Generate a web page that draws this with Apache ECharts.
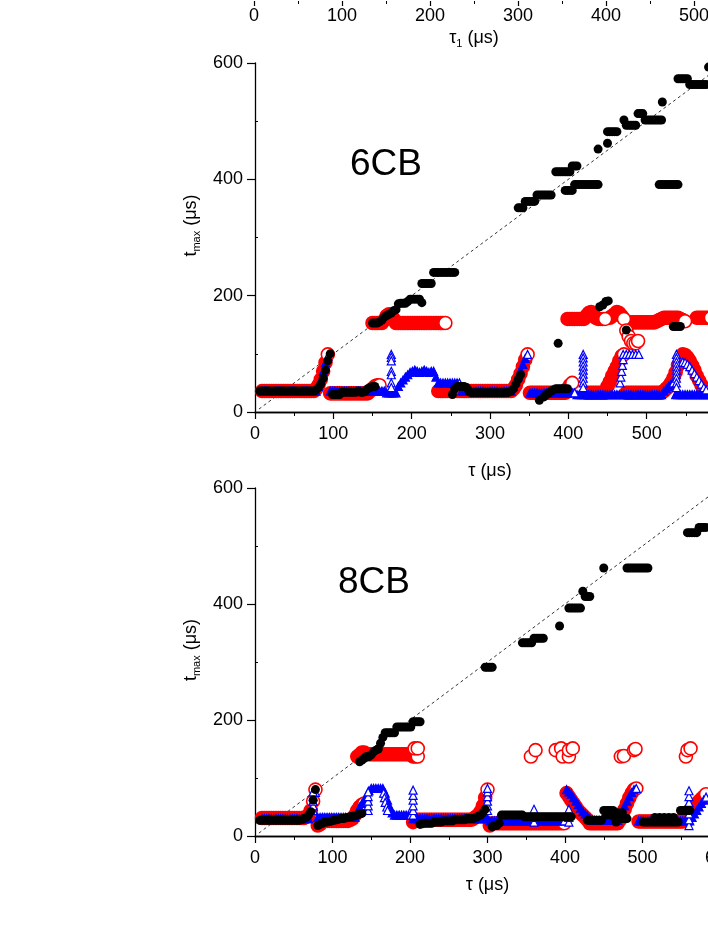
<!DOCTYPE html>
<html><head><meta charset="utf-8">
<script src="https://cdn.jsdelivr.net/npm/echarts@6/dist/echarts.min.js"></script>
<style>html,body{margin:0;padding:0;overflow:hidden;background:#fff}#c{width:760px;height:926px}</style>
</head><body><div id="c"></div>
<script>
const n = null;
const STEP = 3; // μs between consecutive readings inside a run
// tick / axis values
const X_TICKS_TOP = [0, 100, 200, 300, 400, 500];
const X_TICKS = [0, 100, 200, 300, 400, 500, 600];
const Y_TICKS = [0, 200, 400, 600];
const PANELS = ['6CB', '8CB'];
const DIAG = [[5, 5], [600, 600]];

// ---------------- 6CB ----------------
// runs: [first tau, [t_max readings every STEP us]]
const red6Runs = [
  [9, [36,36,36,36,36,36,36,36,36,36, 36,36,36,36,36,36,36,36,36,36, 36,36,36, 40,46,56,70,85,99,
       32,32,32,32,32,32,32,32,32,32, 32,32,32,32,32,32,32, 36,40,44,46,46]],
  [234, [36,36,36,36,36,36,36,36,36,36, 36,36,36,36,36,36,36,36,36,36, 36,36,36,36,36,36,36,36,36,36, 36,36,
         40,46,56,66,78,90,99, 33,33,33,33,33,33,33,33,33,33, 33,33,33,33,33,33, 40,46,50]],
  [423, [33,33,33,33,33,33,33,33,33, 44,52,62,70,78,88,96,99, 33,33,33,33,33,33,33,33,33,33, 33,33,33,33,33,33,
         36,40,44,50,58,68,80,92,99,98,94,88,80,72,62,54,46,40,36,35,35]],
  [150, [153,153,153,153,153,158,165,168,165,160,153, 153,153,153,153,153,153,153,153,153,153, 153,153,153,153,153,153,153,153,153,153, 153]],
  [399, [160,160,160,160,160,160,160,160, 165,170,172,168,162,160,160,160,160, n, 162,165,168,172,170,165,160]],
  [480, [154,154,154,154,154,154,154,154,154,154,154, 156,158,160,162,162,162,162,162,162,162, 160,158,156]],
  [564, [162,162,162,162,162,162,162]]
];
const red6Extra = [[474,140],[477,130],[480,122],[483,118],[486,118],[489,122]];

const blue6Runs = [
  [9, [36,36,36,36,36,36,36,36,36,36, 36,36,36,36,36,36,36,36,36,36, 36,36,36,36, 44,55,70,85,96,
       36,36,36,36,36,36,36,36,36,36, 36,36,36,36,36,36,36,36,36,36, 36,36,36,36, 33,33,33,33,33,
       44,50,55,60,64,68, 70,72,70,68,70,72,70,68,70,70, 60, 50,50,50,50,50,50,50,50,50,50]],
  [264, [36,36,36,36,36,36,36,36,36,36, 36,36,36,36,36,36,36,36,36,36, 36,36, 44,52,62,72,82,92,99,
         33,33,33,33,33,33,33,33,33,33, 33,33,33,33,33,33,33,33,33,33]],
  [411, [30,30,30,30,30,30,30,30,30,30, 30,30,30,30,30,30,30,30,30,30, 30,30,30,30,30,30,30,30,30,30, 30,30,30,30,30,30,30,
         36,40,44,48,50, 30,30,30,30,30,30,30,30,30,30, 30,30,30,30,30,30]]
];
const blue6Extra = [[174,99],[174,94],[174,88],[174,70],[174,64],[174,50],[174,42],
  [419,99],[419,93],[419,86],[419,79],[419,72],[419,65],[419,58],[419,50],[419,42],
  [466,50],[467,60],[468,70],[469,80],[470,90],[470,99],[474,99],[478,99],[482,99],[486,99],[490,99],
  [538,99],[538,93],[538,86],[538,79],[538,72],[538,65],[538,58],[538,50],[538,42],
  [546,86],[549,85],[552,82],[555,78],[558,72],[561,66],[564,60],[567,54],[570,48],[573,42],[576,38]];

const black6Runs = [
  [6, [36,36,36,36,36,36,36,36,36,36, 36,36,36,36,36,36,36,36,36,36, 36,36,36,36, 38,42,48,58,72,88,100,
       30,30,30,30, 34,34,34,34,34,34,34,36,34,34,36,40,42,44,44]],
  [252, [30,40,44,44,44,44,42, 36, 33,33,33,33,33,33,33,33,33,33, 33,33,33,33,33,33, 34,36,40,48,56,64]],
  [363, [20, n, 26,30,33,36,38,40,40,40,40,40,40]],
  [150, [153,153,153,155,158,163,166,168,170,174,176, 186,187,187,187,190,194,194,194,194,194,
         221,221,221,221,221, 240,240,240,240,240,240,240,240,240,240]],
  [336, [351,351,351, 362,362,362,362,362, 373,373,373,373,373,373,373, n, 413,413,413,413,413,413,413, 423,423,423]],
  [396, [381,381,381,381, 391,391,391,391,391,391,391,391,391,391,391]],
  [438, [452, n,n,n, 482,482,482,482,482, n,n, 502, 493,493,493,493,493, 513,513,513, 502,502,502,502,502,502,502,502]],
  [516, [391,391,391,391,391,391,391,391,391]],
  [540, [573,573,573,573,573, 563,563,563,563,563,563,563,563, 593]]
];
const black6Extra = [[450,462],[520,533],[213,188],[387,118],[440,181],[444,184],[448,190],[451,191],
  [474,141],[534,147],[537,147],[540,147],[543,147]];

// ---------------- 8CB ----------------
const red8Runs = [
  [9, [31,31,31,31,31,31,31,31,31,31, 31,31,31,31,31,31,31,31,31, 33,36,44,60,80, 18,20,
       26,26,26,26,26,26,26,26,26,26,26,26, 28,30,36,44,50,54,56]],
  [204, [24, 28,28,28,28,28,28,28,28,28,28, 28,28,28,28,28,28,28,28,28,28, 28,28,28,28,28, 30,33,36,42,52,66,80]],
  [303, [18, 22,22,22,22,22,22,22,22,22,22, 22,22,22,22,22,22,22,22,22,22, 22,22,22,22,22,22,22,22,22,22, 22,22,
         74,68,62,56,50,44,40,36,32,28, 22,22,22,22,22,22,22,22,22,22,22,22,22, 28,36,46,56,66,74,80,82]],
  [495, [25,25,25,25,25,25,25,25,25,25, 25,25,25,25,25,25,25,25,25,25, 36,40,44,48,52,56,60,64,68,72]],
  [132, [137,140,144,144, 141,141,141,141,141,141,141,141,141,141, 141,141,141,141,141,141,141,141,141,141, 137,137,137]]
];
const red8Extra = [[206,151],[210,151],[356,137],[362,148],[388,148],[395,151],[397,137],[405,137],[405,148],[410,151],
  [472,137],[476,138],[489,148],[491,150],[556,137],[558,148],[562,151]];

const blue8Runs = [
  [9, [30,30,30,30,30,30,30,30,30,30, 30,30,30,30,30,30,30,30,30,30, 30, 44,60,75,
       32,32,32,32,32,32,32,32,32,32, 32,32,32,32,32,32,32, 40,50,56,62,70,78, 82,82,82,82,82,82, 74,62,50,40,
       36,36,36,36,36,36,36,36]],
  [204, [30,30,30,30,30,30,30,30,30,30, 30,30,30,30,30,30,30,30,30,30, 30,30,30,30,30,30,30,30,30,30, 30,30,30,
         26,26,26,26,26,26,26,26,26,26, 26,26,26,26,26,26,26,26,26,26, 26,26,26,26,26,26,26,26,26,26, 26,26,26]],
  [402, [80,76,72,66,60,54,48,42,38,34,30, 27,27,27,27,27,27,27,27,27,27,27,27, 36,44,52,60,68,75,80,82,
         26,26,26,26,26,26,26,26,26,26, 26,26,26,26,26,26,26,26,26,26, 26,26,26, 32,38,44,50,56,62,67]]
];
const blue8Extra = [[75,44],[75,52],[75,60],[75,68],[75,76],[146,44],[146,52],[146,60],[146,68],[146,76],
  [166,74],[167,66],[168,58],[170,50],[171,44],[204,36],[204,44],[204,52],[204,62],[204,70],[204,79],
  [300,44],[300,52],[300,60],[300,68],[300,76],[300,82],[360,24],[360,32],[360,40],[360,46],
  [405,24],[405,32],[405,40],[405,46],[560,18],[560,28],[560,38],[560,48],[560,58],[560,68],[560,78]];

const black8Runs = [
  [6, [27,27,27,27,27,27,27,27,27,27, 27,27,27,27,27,27,27,27, 28,30,32,36,42,62,80,
       18,20,22,24,24,25,26,27,28,29, 30,30,31,32,33,34,35,36,38,39]],
  [213, [20,21,22,22,22,22,24,24,24,24, 26,26,26,26,26, 28,28,28,28,28, 30,30,30,30,32,34,36,40,46]],
  [306, [16,18,18,22, 36,36,36,36,36,36,36,36,36,36, 33,33,33,33,33,33,33,33,33,33, 33,33,33,33,33,33,33,33,33,33,33]],
  [429, [27,27,27,27,27,27,27, 44,44,44,44,44, 30,30,30,30,30,30]],
  [501, [24,24,24,24,24,24,24,24,24,24, 24,24,24,24,24,24, 44,44,44,44,44]],
  [135, [128,131,134,137,137,140,145,148,150,160,170,178,178,178,178,178, 188,188,188,188,188,188,188, 197,197,197,197]],
  [297, [291,291,291,291]],
  [345, [333,333,333,333,333, 341,341,341,341,341]],
  [393, [362, n,n,n, 393,393,393,393,393,393, 422, 413,413,413]],
  [450, [462]],
  [480, [462,462,462,462,462,462,462,462,462,462]],
  [558, [523,523,523,523,523, 532,532,532,532]]
];
const black8Extra = [[516,32],[522,32],[528,32],[534,32],[540,32],[453,36],[459,36],[468,40],[474,40],[466,24]];

// -------------- build --------------
// Densely overlapping open markers read as a solid band; only the last marker of a
// run (or one followed by a jump) keeps its visible white interior.
function expand(runs, extra) {
  const body = [], ends = [];
  runs.forEach(([t0, ys]) => ys.forEach((y, k) => {
    if (y == null) return;
    const nx = ys[k + 1];
    const pt = [t0 + STEP * k, y];
    if (nx == null || Math.abs(nx - y) >= 20) ends.push(pt); else body.push(pt);
  }));
  return {body, ends: ends.concat(extra), all: body.concat(ends, extra)};
}
const FONT = '"Liberation Sans", Arial, sans-serif';
const lab = {color: '#000', fontSize: 18, fontFamily: FONT};
const axLine = {lineStyle: {color: '#000', width: 1.3}};
const subRich = {s: {fontSize: 11, lineHeight: 9, verticalAlign: 'bottom', fontFamily: FONT, color: '#000'}};

const panelData = [
  {red: expand(red6Runs, red6Extra), blue: expand(blue6Runs, blue6Extra), black: expand(black6Runs, black6Extra)},
  {red: expand(red8Runs, red8Extra), blue: expand(blue8Runs, blue8Extra), black: expand(black8Runs, black8Extra)}
];

const grids = [
  {left: 254, top: 0, width: 440, height: 1},
  {left: 255, top: 63, width: 470, height: 349},
  {left: 255, top: 488, width: 465, height: 348}
];
const xNameGap = [26, 50, 40];
const xLabMargin = [6, 13, 13];

const xAxis = [{
  gridIndex: 0, type: 'value', min: X_TICKS_TOP[0], max: X_TICKS_TOP[X_TICKS_TOP.length - 1], interval: 100,
  axisLine: {show: false}, axisTick: {length: 5, lineStyle: {color: '#000', width: 1.2}},
  minorTick: {show: true, splitNumber: 2, length: 3, lineStyle: {color: '#000', width: 1}},
  axisLabel: Object.assign({margin: xLabMargin[0]}, lab), splitLine: {show: false},
  name: 'τ{s|1} (μs)', nameLocation: 'middle', nameGap: xNameGap[0],
  nameTextStyle: Object.assign({lineHeight: 22, rich: subRich}, lab)
}];
const yAxis = [{gridIndex: 0, type: 'value', min: 0, max: 600, show: false}];
[1, 2].forEach(g => {
  xAxis.push({
    gridIndex: g, type: 'value', min: X_TICKS[0], max: X_TICKS[X_TICKS.length - 1], interval: 100,
    axisLine: axLine, axisTick: {length: 7, lineStyle: {color: '#000', width: 1.2}},
    minorTick: {show: true, splitNumber: 2, length: 4, lineStyle: {color: '#000', width: 1}},
    axisLabel: Object.assign({margin: xLabMargin[g]}, lab), splitLine: {show: false},
    name: 'τ (μs)', nameLocation: 'middle', nameGap: xNameGap[g], nameTextStyle: lab
  });
  xAxis.push({
    gridIndex: g, type: 'value', position: 'top', min: 0, max: 600, interval: 50,
    axisLine: axLine, axisTick: {inside: true, length: 3, lineStyle: {color: '#000', width: 1}},
    axisLabel: {show: false}, splitLine: {show: false}
  });
  yAxis.push({
    gridIndex: g, type: 'value', min: Y_TICKS[0], max: Y_TICKS[Y_TICKS.length - 1], interval: 200,
    axisLine: axLine, axisTick: {length: 8, lineStyle: {color: '#000', width: 1.2}},
    axisLabel: Object.assign({margin: 12}, lab), splitLine: {show: false},
    name: 't{s|max} (μs)', nameLocation: 'middle', nameGap: 51, nameRotate: 90,
    nameTextStyle: Object.assign({lineHeight: 22, padding: [0, 0, 0, 24], rich: subRich}, lab)
  });
  yAxis.push({
    gridIndex: g, type: 'value', min: 0, max: 600, interval: 100, position: 'left',
    axisLine: {show: false}, axisLabel: {show: false}, splitLine: {show: false},
    axisTick: {inside: true, length: 3, customValues: [100, 300, 500], lineStyle: {color: '#000', width: 1}}
  });
});

const RED = '#ff0000', BLUE = '#0000ff';
const series = [];
panelData.forEach((d, p) => {
  const xi = 1 + 2 * p, yi = 1 + 2 * p;
  const base = {type: 'scatter', xAxisIndex: xi, yAxisIndex: yi, silent: true};
  series.push({type: 'line', xAxisIndex: xi, yAxisIndex: yi, data: DIAG, symbol: 'none', silent: true,
    lineStyle: {color: '#000', width: 0.8, type: [3, 3]}, z: 1});
  series.push(Object.assign({}, base, {data: d.red.body, symbol: 'circle', symbolSize: 13,
    itemStyle: {color: RED, borderColor: RED, borderWidth: 1.6, opacity: 1}, z: 2}));
  series.push(Object.assign({}, base, {data: d.red.ends, symbol: 'circle', symbolSize: 13,
    itemStyle: {color: '#fff', borderColor: RED, borderWidth: 1.6, opacity: 1}, z: 2}));
  series.push(Object.assign({}, base, {data: d.blue.body, symbol: 'triangle', symbolSize: 8,
    itemStyle: {color: BLUE, borderColor: BLUE, borderWidth: 1.2, opacity: 1}, z: 3}));
  series.push(Object.assign({}, base, {data: d.blue.ends, symbol: 'triangle', symbolSize: 8,
    itemStyle: {color: '#fff', borderColor: BLUE, borderWidth: 1.2, opacity: 1}, z: 3}));
  series.push(Object.assign({}, base, {data: d.black.all, symbol: 'circle', symbolSize: 9,
    itemStyle: {color: '#000', opacity: 1}, z: 4}));
});

const chart = echarts.init(document.getElementById('c'), null, {renderer: 'canvas'});
chart.setOption({
  animation: false,
  backgroundColor: '#fff',
  textStyle: {fontFamily: FONT},
  grid: grids, xAxis, yAxis, series,
  graphic: [
    {type: 'text', x: 350, y: 165, style: {text: PANELS[0], fontSize: 37, fontFamily: FONT, fill: '#000', verticalAlign: 'middle'}},
    {type: 'text', x: 338, y: 583, style: {text: PANELS[1], fontSize: 37, fontFamily: FONT, fill: '#000', verticalAlign: 'middle'}}
  ]
});
</script></body></html>
